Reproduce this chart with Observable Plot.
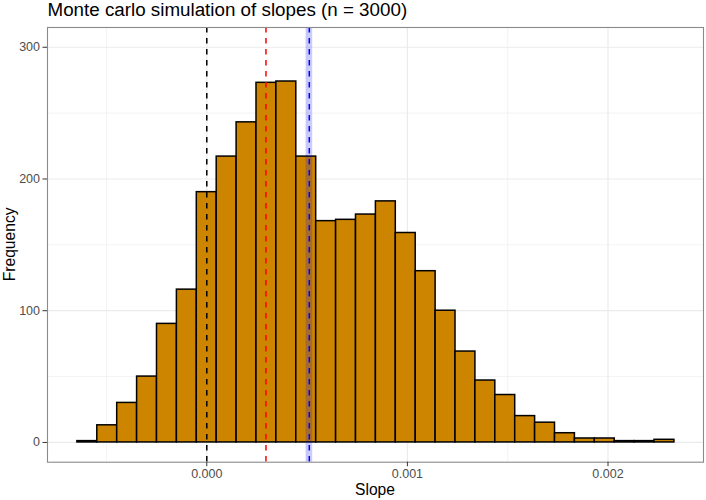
<!DOCTYPE html>
<html>
<head>
<meta charset="utf-8">
<script src="https://cdn.jsdelivr.net/npm/d3@7"></script>
<script src="https://cdn.jsdelivr.net/npm/@observablehq/plot@0.6"></script>
<style>
  html, body { margin: 0; padding: 0; background: #fff; }
  svg { display: block; }
</style>
</head>
<body>
<div id="chart"></div>
<script>
// ---- data ----
const titleText = "Monte carlo simulation of slopes (n = 3000)";
const xLabel = "Slope";
const yLabel = "Frequency";
const binStart = -0.000645;   // left edge of first bin
const binWidth = 0.0000992;   // width of each bin (30 bins)
const counts = [1, 13, 30, 50, 90, 116, 190, 217, 243, 273, 274, 217, 168, 169, 173,
                183, 159, 130, 100, 69, 47, 36, 20, 15, 7, 3, 3, 1, 1, 2];
const xTicks = [0, 0.001, 0.002];
const xMinorTicks = [-0.0005, 0.0005, 0.0015];
const yTicks = [0, 100, 200, 300];
const yMinorTicks = [50, 150, 250];
const zeroLine = [0];
const redLine = [0.000295];
const blueLine = [0.000511];
const blueBand = [{lo: 0.000495, hi: 0.000528}];

// ---- table built from the arrays ----
const bins = counts.map((c, i) => ({
  x1: binStart + i * binWidth,
  x2: binStart + (i + 1) * binWidth,
  count: c
}));

const W = 706, H = 500;
const mL = 47, mR = 3, mT = 27, mB = 38.3;

const chart = Plot.plot({
  width: W,
  height: H,
  marginLeft: mL,
  marginRight: mR,
  marginTop: mT,
  marginBottom: mB,
  style: {fontFamily: "'Liberation Sans', Arial, sans-serif", fontSize: "12.5px", background: "#fff"},
  x: {domain: [-0.000794, 0.002476]},
  y: {domain: [-15, 315]},
  marks: [
    Plot.gridX(xMinorTicks, {stroke: "#ebebeb", strokeOpacity: 1, strokeWidth: 0.6}),
    Plot.gridY(yMinorTicks, {stroke: "#ebebeb", strokeOpacity: 1, strokeWidth: 0.6}),
    Plot.gridX(xTicks, {stroke: "#ebebeb", strokeOpacity: 1, strokeWidth: 1.2}),
    Plot.gridY(yTicks, {stroke: "#ebebeb", strokeOpacity: 1, strokeWidth: 1.2}),
    Plot.rect(bins, {x1: "x1", x2: "x2", y1: 0, y2: "count", fill: "#CD8500", stroke: "black", strokeWidth: 1.5}),
    Plot.rect(blueBand, {x1: "lo", x2: "hi", fill: "blue", fillOpacity: 0.2}),
    Plot.ruleX(zeroLine, {stroke: "black", strokeWidth: 1.5, strokeDasharray: "5.5,5.5"}),
    Plot.ruleX(redLine, {stroke: "red", strokeWidth: 1.5, strokeDasharray: "5.5,5.5"}),
    Plot.ruleX(blueLine, {stroke: "blue", strokeWidth: 1.5, strokeDasharray: "5.5,5.5"}),
    Plot.frame({stroke: "#8a8a8a", strokeWidth: 1.1}),
    Plot.axisX(xTicks, {tickFormat: d3.format(".3f"), tickSize: 4.5, tickPadding: 2, label: null, stroke: "#333", fill: "#4d4d4d", fontSize: 12.5}),
    Plot.axisY(yTicks, {tickSize: 4.5, tickPadding: 3, label: null, stroke: "#333", fill: "#4d4d4d", fontSize: 12.5})
  ]
});

const svg = d3.select(chart);
svg.append("text")
  .attr("x", 47.5).attr("y", 16)
  .attr("text-anchor", "start")
  .attr("font-size", "18.8px")
  .attr("fill", "#000")
  .text(titleText);
svg.append("text")
  .attr("x", (mL + W - mR) / 2).attr("y", 494.5)
  .attr("text-anchor", "middle")
  .attr("font-size", "15.6px")
  .attr("fill", "#000")
  .text(xLabel);
svg.append("text")
  .attr("transform", `translate(15,${(mT + H - mB) / 2}) rotate(-90)`)
  .attr("text-anchor", "middle")
  .attr("font-size", "15.6px")
  .attr("fill", "#000")
  .text(yLabel);

document.getElementById("chart").appendChild(chart);
</script>
</body>
</html>
